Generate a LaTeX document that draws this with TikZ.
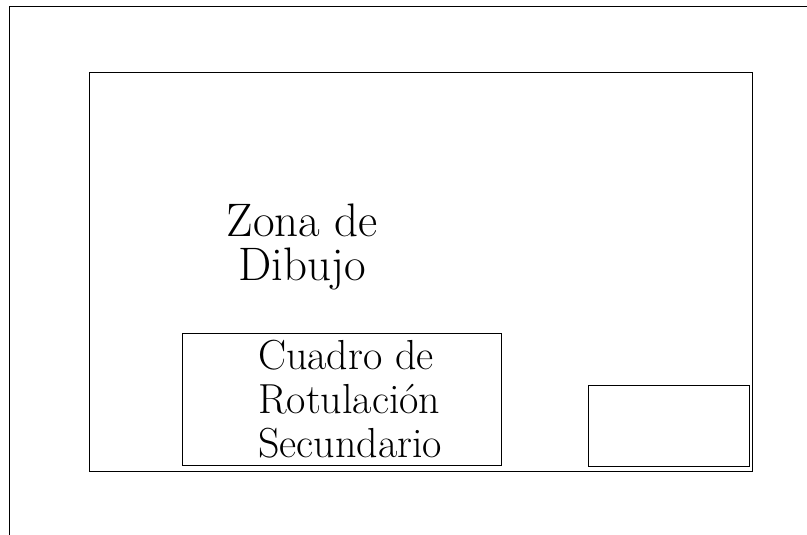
\documentclass[tikz,border=0pt]{standalone}
\begin{document}
\begin{tikzpicture}[x=1pt,y=-1pt,
  frame/.style={draw=black,line width=0.7pt},
  zonatext/.style={align=center,inner sep=0pt,font=\fontsize{47}{44}\selectfont},
  rotext/.style={align=left,inner sep=0pt,font=\fontsize{42}{44}\selectfont}]
\useasboundingbox (0,0) rectangle (807,535);
\coordinate (ob) at (9,540);
\coordinate (otl) at (9,6);
\coordinate (or) at (812,6);
\draw[frame] (ob) -- (otl) -- (or);
\node[frame,minimum width=663pt,minimum height=399pt,anchor=north west,inner sep=0pt] (dib) at (89,72) {};
\node[frame,minimum width=319pt,minimum height=132pt,anchor=north west,inner sep=0pt] (sec) at (182,333) {};
\node[frame,minimum width=161pt,minimum height=81pt,anchor=north west,inner sep=0pt] (pri) at (588,385) {};
\node[zonatext,anchor=base] (zona) at (302,280) {Zona de\\Dibujo};
\node[rotext,anchor=north west] (rot) at (258,340) {Cuadro de\\Rotulaci\'on\\Secundario};
\end{tikzpicture}
\end{document}
